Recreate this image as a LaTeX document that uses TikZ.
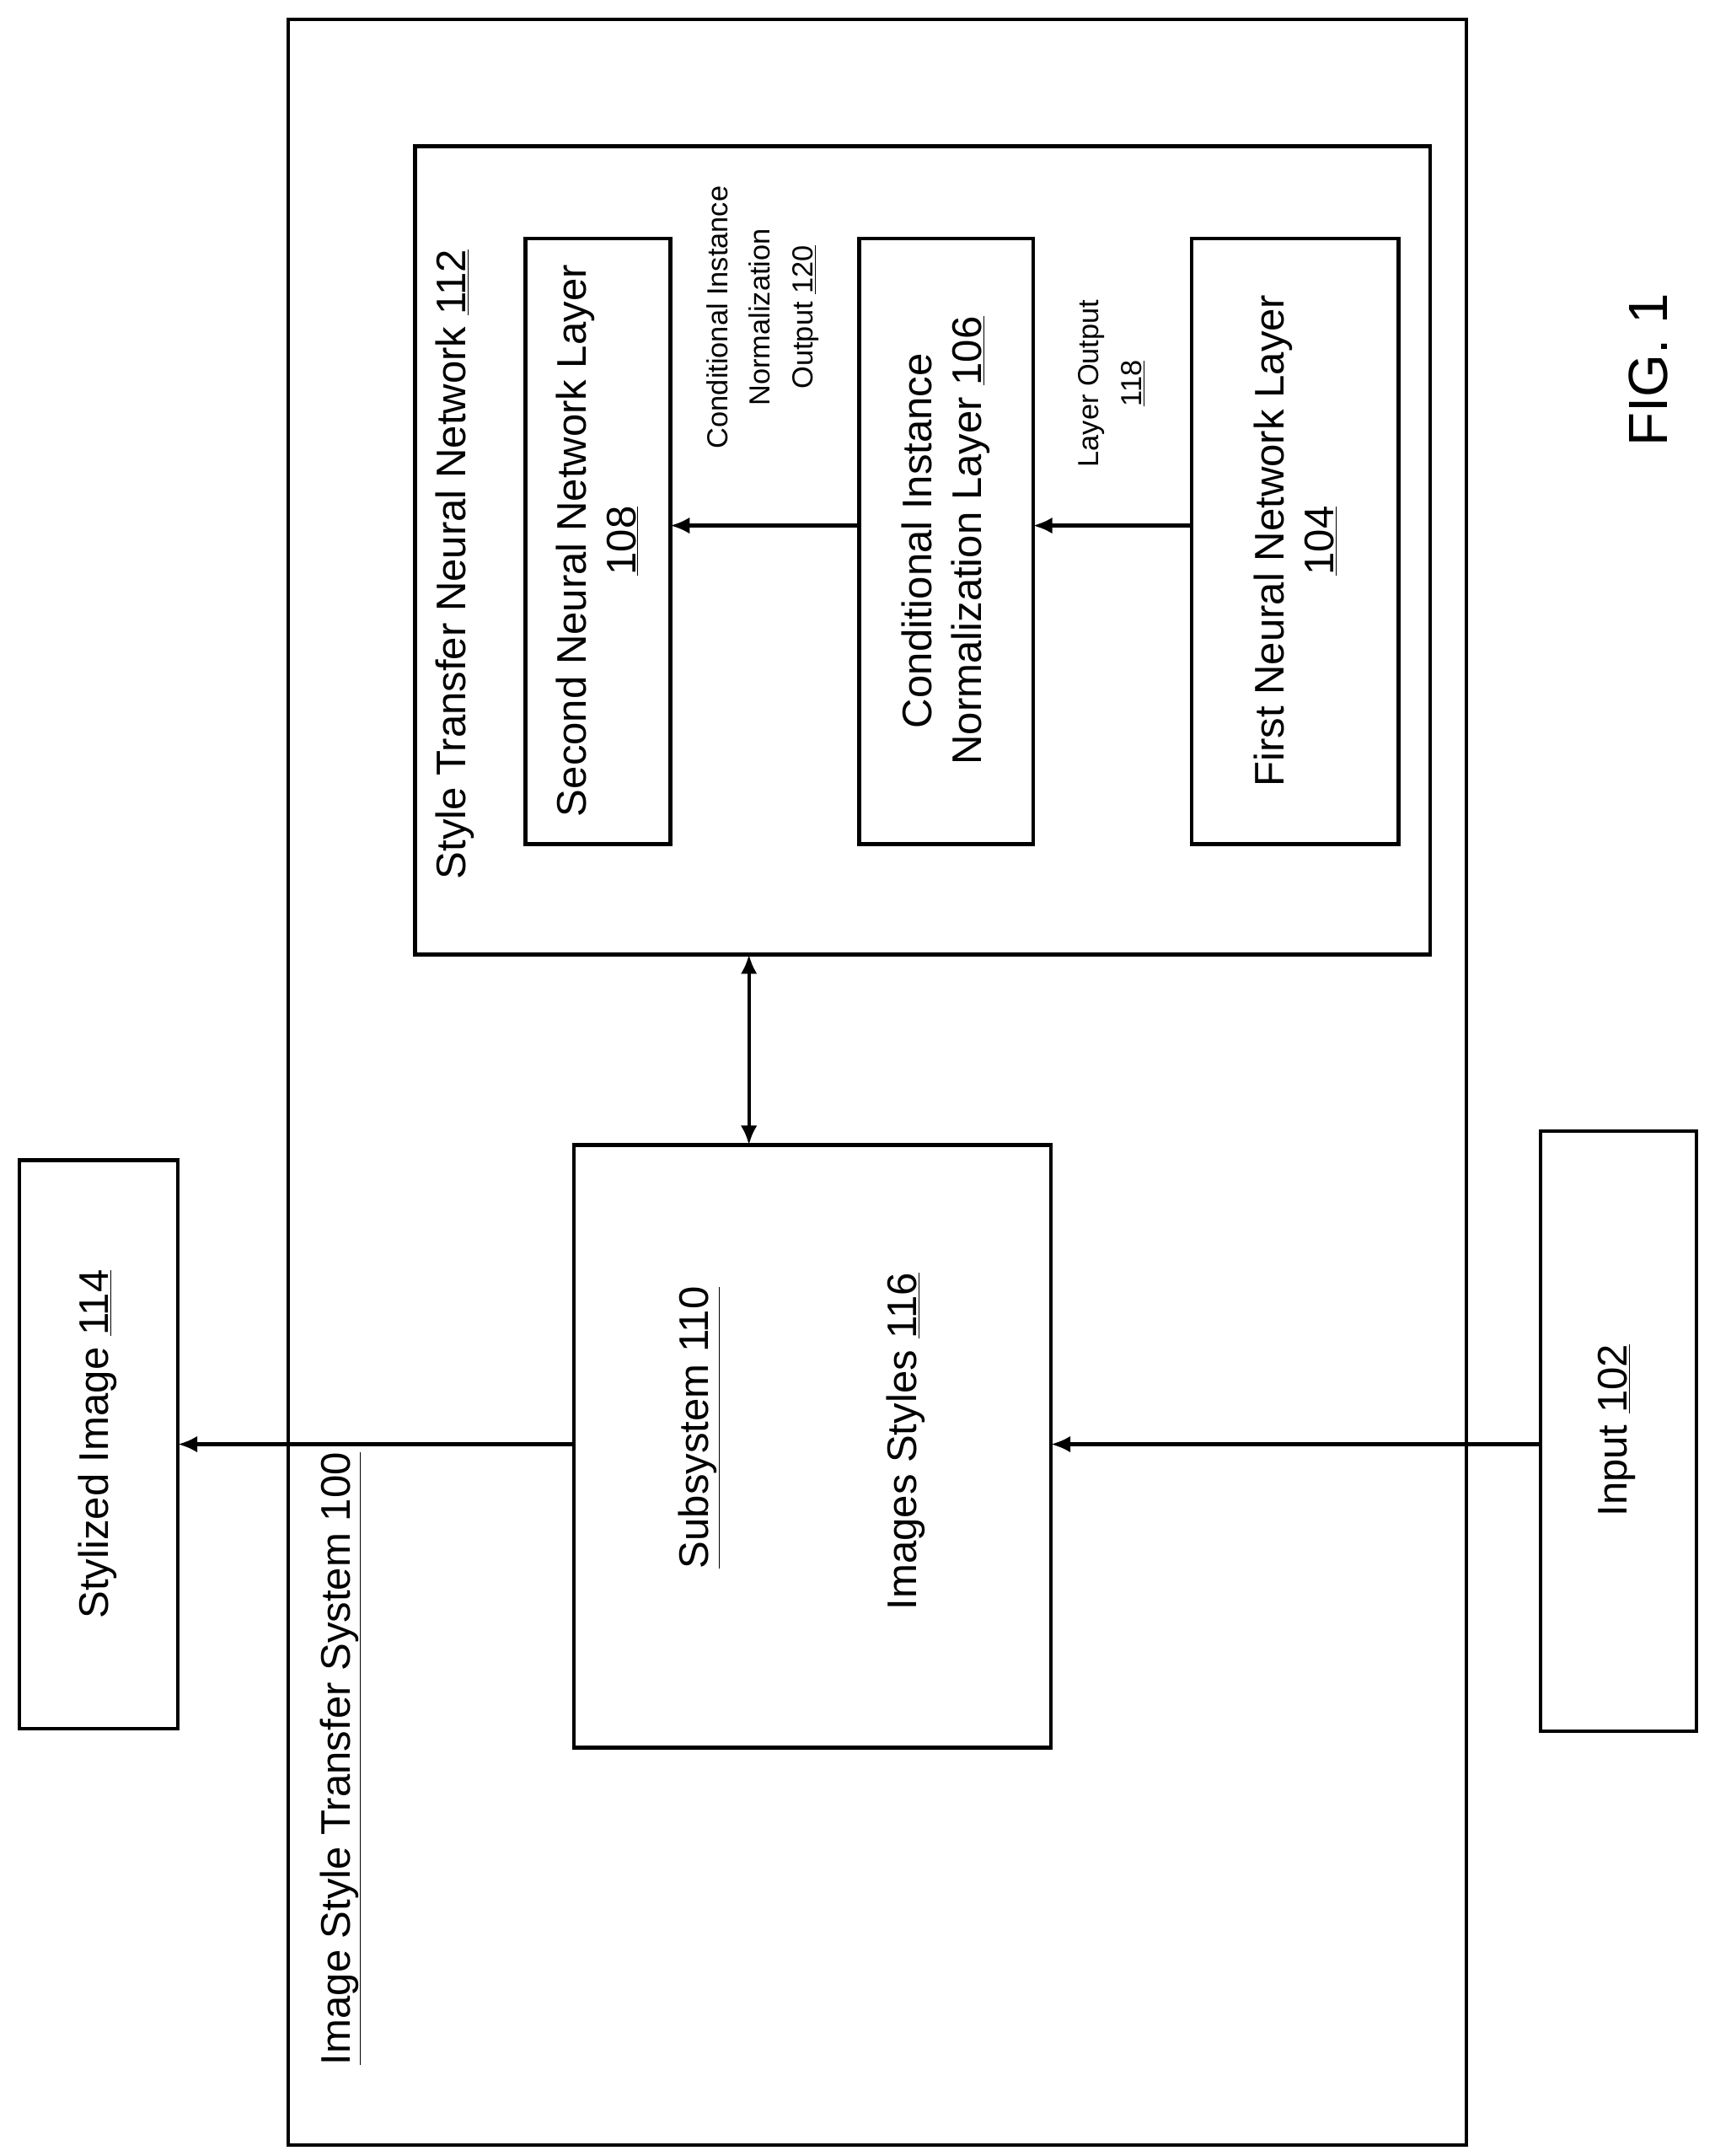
\documentclass[tikz,border=0pt]{standalone}
\usepackage{fontspec}
\setmainfont{Liberation Sans}
\begin{document}
\begin{tikzpicture}[x=1pt,y=-1pt,
  box/.style={draw,line width=2.6pt},
  big/.style={font=\fontsize{30}{36}\selectfont},
  small/.style={font=\fontsize{21}{31}\selectfont},
  rt/.style={rotate=90,align=center},
  arr/.style={line width=2.6pt,-{Latex[length=14pt,width=12pt]}}]
\usetikzlibrary{arrows.meta}
\useasboundingbox (0,0) rectangle (1243,1563);
\draw[box] (209,14) rectangle (1063,1555);
\node[rt,big] (sys) at (247,1275) {\underline{Image Style Transfer System 100}};
\draw[box] (14,841) rectangle (129,1253);
\node[rt,big] (sty) at (71,1047) {Stylized Image \underline{114}};
\coordinate (styR) at (129,1047);
\draw[box] (1117,820) rectangle (1230,1255);
\node[rt,big] (inp) at (1172,1037) {Input \underline{102}};
\coordinate (inpL) at (1117,1047);
\draw[box] (416,830) rectangle (762,1267);
\coordinate (subL) at (416,1047);
\coordinate (subR) at (762,1047);
\coordinate (subT) at (543,830);
\node[rt,big] (s110) at (507,1035) {\underline{Subsystem 110}};
\node[rt,big] (s116) at (657,1045) {Images Styles \underline{116}};
\draw[box] (301,106) rectangle (1037,692);
\coordinate (stB) at (543,692);
\node[rotate=90,big,anchor=west] (st) at (330,641) {Style Transfer Neural Network \underline{112}};
\draw[box] (381,173) rectangle (486,612);
\node[rt,big] (sec) at (433,392) {Second Neural Network Layer\\\underline{108}};
\draw[box] (623,173) rectangle (749,612);
\node[rt,big] (cin) at (686,392) {Conditional Instance\\Normalization Layer \underline{106}};
\draw[box] (864,173) rectangle (1014,612);
\node[rt,big] (fir) at (939,392) {First Neural Network Layer\\\underline{104}};
\draw[arr] (864,381) -- (749,381);
\draw[arr] (623,381) -- (486,381);
\node[rt,small] (lo) at (806,278) {Layer Output\\\underline{118}};
\node[rt,small] (cio) at (553,230) {Conditional Instance\\Normalization\\Output \underline{120}};
\draw[line width=2.6pt,{Latex[length=14pt,width=12pt]}-{Latex[length=14pt,width=12pt]}] (stB) -- (subT);
\draw[arr] (subL) -- (styR);
\draw[arr] (inpL) -- (subR);
\node[rotate=90,font=\fontsize{40}{48}\selectfont] (fig) at (1195,268) {FIG. 1};
\end{tikzpicture}
\end{document}
